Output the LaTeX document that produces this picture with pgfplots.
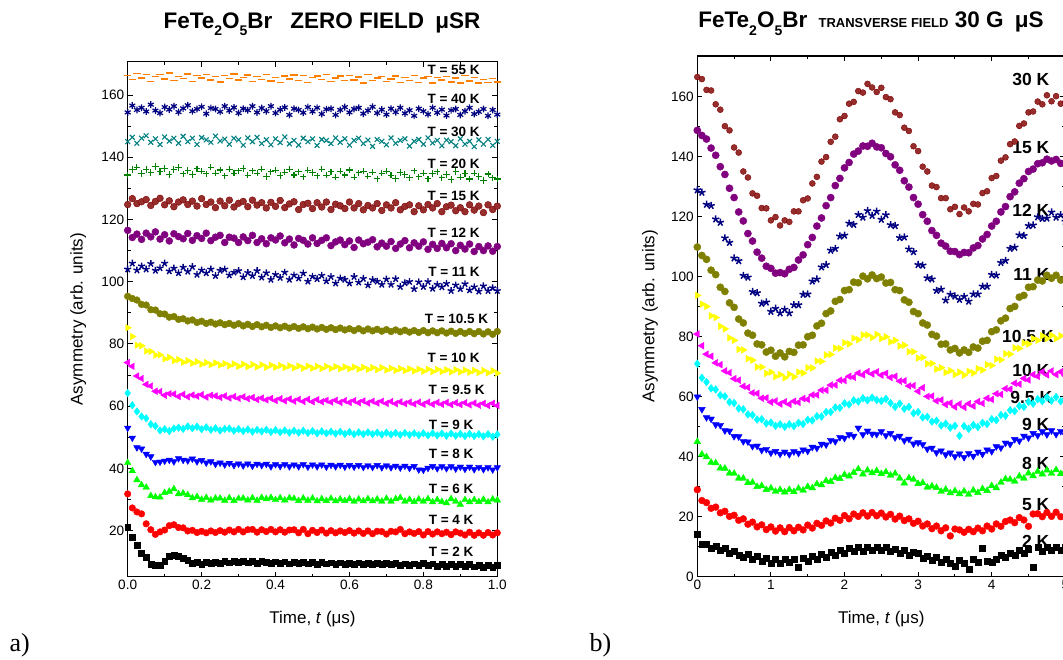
\documentclass[border=0pt]{standalone}
\usepackage{fontspec}
\setmainfont{Liberation Sans}
\newfontfamily\serif{Liberation Serif}
\usepackage{pgfplots}
\usepackage{pgfplotstable}
\pgfplotsset{compat=1.18}

\definecolor{cOrange}{RGB}{255,128,0}
\definecolor{cNavy}{RGB}{0,0,128}
\definecolor{cTeal}{RGB}{0,128,128}
\definecolor{cGreen}{RGB}{0,128,0}
\definecolor{cDarkRed}{RGB}{128,0,0}
\definecolor{cPurple}{RGB}{128,0,128}
\definecolor{cOlive}{RGB}{128,128,0}
\definecolor{cYellow}{RGB}{255,255,0}
\definecolor{cMagenta}{RGB}{255,0,255}
\definecolor{cCyan}{RGB}{0,255,255}
\definecolor{cBlue}{RGB}{0,0,255}
\definecolor{cLime}{RGB}{0,255,0}
\definecolor{cRed}{RGB}{255,0,0}

\newcommand\sub[1]{\raisebox{-0.6ex}{\fontsize{14}{16}\selectfont #1}}

% zero field, t in microseconds
\pgfplotstableread{
t a55 a40 a30 a20 a15 a12 a11 a105 a10 a95 a9 a8 a6 a4 a2
0 166.3 154.4 145.0 134.3 124.8 116.5 104.0 95.3 85.2 74.0 64.2 53.0 41.8 31.8 21.2
0.0125 164.9 156.6 146.4 136.1 126.7 114.2 105.9 94.6 82.4 72.8 60.3 49.8 39.2 27.3 17.8
0.025 167.0 155.2 144.5 136.8 125.1 115.3 103.7 94.1 79.6 69.7 58.3 46.7 36.3 26.0 15.3
0.0375 165.4 155.9 146.1 134.8 125.7 113.6 105.0 92.7 79.4 68.9 56.7 46.3 34.7 25.4 12.8
0.05 166.5 154.7 146.9 136.1 126.4 115.6 104.0 92.5 77.7 67.0 56.1 44.6 33.9 22.2 11.5
0.0625 164.3 156.9 144.8 135.1 124.5 114.4 105.8 91.0 77.6 66.5 54.2 43.8 31.2 20.3 9.3
0.075 165.9 155.0 145.9 137.0 125.8 116.0 103.6 90.9 76.4 64.8 53.6 42.0 30.8 18.8 8.8
0.0875 166.6 154.2 144.1 135.4 126.8 113.7 104.4 89.7 76.5 64.7 52.2 42.1 30.7 19.6 9.0
0.1 165.1 156.1 146.5 136.4 124.7 115.1 105.9 89.6 75.2 63.5 52.6 42.4 32.2 20.2 10.3
0.1125 167.1 155.3 145.2 134.4 126.0 113.1 103.4 88.6 75.7 64.0 52.0 42.7 32.6 21.6 11.8
0.125 164.7 156.4 146.1 136.1 124.1 115.4 104.3 88.8 74.6 63.9 52.8 42.2 33.4 21.9 12.0
0.1375 166.0 154.5 144.5 136.7 125.6 114.5 102.8 87.9 75.0 63.1 53.1 43.2 31.8 21.0 11.9
0.15 165.3 155.7 146.7 134.7 126.3 113.8 104.6 88.1 74.1 63.8 52.7 42.7 32.0 20.9 11.2
0.1625 166.7 156.7 145.0 135.7 124.8 115.5 103.3 87.4 74.6 63.0 53.5 42.5 31.5 19.9 10.5
0.175 164.4 154.8 146.1 134.4 125.9 113.3 104.8 87.7 73.8 63.6 52.9 43.1 30.5 20.1 9.6
0.1875 166.2 155.5 144.1 136.3 124.3 114.8 102.3 86.9 74.3 63.2 53.4 42.2 30.9 19.4 9.8
0.2 165.4 156.2 146.3 135.5 126.7 113.9 103.7 87.3 73.5 63.7 52.6 42.6 30.0 19.8 9.3
0.2125 166.6 154.0 145.6 134.7 124.8 115.6 102.8 86.6 74.0 62.9 53.2 41.8 30.6 19.3 9.9
0.225 164.8 155.8 144.8 136.8 125.6 113.2 104.0 87.0 73.3 63.5 52.4 42.2 29.8 19.9 9.5
0.2375 166.0 155.5 146.8 134.9 123.8 114.3 101.9 86.4 73.9 63.3 52.9 41.4 30.4 19.4 9.9
0.25 164.2 154.6 145.2 135.9 125.9 114.9 103.6 86.8 73.2 62.8 52.2 41.8 30.4 20.0 9.6
0.2625 166.3 156.4 145.8 134.0 124.4 112.6 104.0 86.2 73.7 63.3 52.7 41.2 29.7 19.5 10.1
0.275 165.3 155.0 144.2 136.2 126.2 114.3 102.1 86.6 73.0 62.6 52.8 41.7 30.5 20.2 9.7
0.2875 166.8 156.0 146.1 134.9 124.0 114.0 103.0 86.0 73.6 63.1 52.1 41.0 29.6 19.6 10.2
0.3 164.8 154.2 145.6 135.6 125.2 112.6 103.5 86.5 72.8 62.5 52.6 41.5 30.3 20.4 9.8
0.3125 165.6 155.6 143.9 136.4 125.8 114.4 101.5 85.8 73.5 63.0 52.0 40.9 30.4 19.6 10.3
0.325 166.4 155.1 146.2 134.2 124.1 113.2 102.9 86.3 72.7 62.4 52.5 41.5 29.8 20.3 9.7
0.3375 164.4 156.4 145.0 135.6 126.2 114.9 101.9 85.6 73.4 62.8 51.8 40.8 30.5 20.4 10.2
0.35 166.0 154.4 146.4 134.9 124.6 112.6 103.5 86.2 72.6 62.1 52.4 41.4 29.7 19.5 9.6
0.3625 164.9 155.8 144.4 136.2 125.4 113.8 101.4 85.5 73.3 62.6 51.9 41.0 30.6 20.3 10.1
0.375 166.6 154.8 145.6 133.8 123.7 112.2 102.8 86.0 72.5 62.0 52.4 41.4 30.2 19.7 9.9
0.3875 164.5 156.4 144.0 135.3 125.5 114.1 100.7 85.3 73.2 62.5 51.7 40.6 30.6 20.4 9.6
0.4 165.7 154.2 145.9 135.8 124.2 113.4 102.3 85.8 72.5 61.8 52.3 41.3 29.9 19.6 10.0
0.4125 164.0 155.3 144.7 134.1 126.1 114.7 101.3 85.2 73.1 62.4 51.6 40.7 30.5 20.3 9.5
0.425 166.1 156.0 146.5 135.2 123.8 112.5 103.0 85.7 72.4 61.7 52.2 41.3 29.8 19.5 10.0
0.4375 165.1 153.6 144.3 136.2 125.0 113.7 100.7 85.1 73.0 62.3 51.5 40.6 30.5 20.2 9.4
0.45 166.4 155.6 145.4 134.3 125.7 111.8 102.1 85.6 72.3 61.6 52.1 41.2 30.3 20.3 9.9
0.4625 164.6 155.2 143.9 135.3 123.2 113.9 101.1 85.0 72.9 62.2 51.5 40.6 29.6 19.3 9.5
0.475 166.2 154.3 146.1 133.7 124.8 113.3 102.7 85.5 72.2 61.5 52.1 41.3 30.4 20.4 9.9
0.4875 164.1 156.1 145.0 135.8 125.2 112.1 100.1 84.9 72.9 62.2 51.4 40.5 29.7 19.0 9.4
0.5 165.7 154.7 145.9 135.1 123.5 114.1 101.7 85.4 72.2 61.4 52.0 41.2 30.4 20.1 9.8
0.5125 166.1 155.9 143.8 134.0 125.4 112.3 100.9 84.8 72.8 62.1 51.3 40.6 29.5 19.4 9.3
0.525 164.9 153.9 145.7 136.2 124.0 113.3 102.0 85.3 72.1 61.4 51.9 41.2 30.2 20.2 9.8
0.5375 166.6 155.4 145.4 134.2 125.6 114.1 100.2 84.7 72.8 61.9 51.3 40.5 29.6 19.2 9.4
0.55 164.3 155.6 144.4 135.3 123.2 111.6 101.6 85.2 72.1 61.3 51.8 41.1 30.3 20.0 9.7
0.5625 165.4 153.6 146.2 133.6 124.9 112.8 99.5 84.6 72.7 61.9 51.2 40.6 29.5 19.3 9.3
0.575 166.1 155.2 144.8 135.5 124.4 113.4 101.1 85.1 72.0 61.2 51.8 41.1 30.1 19.9 9.7
0.5875 164.6 156.1 145.9 134.3 123.5 111.9 100.7 84.5 72.6 61.8 51.1 40.5 29.6 19.4 9.2
0.6 166.3 154.4 143.9 135.9 125.6 113.1 99.5 84.9 72.0 61.2 51.7 41.0 30.2 20.0 9.6
0.6125 164.8 155.5 145.4 133.6 123.7 111.0 101.6 84.3 72.6 61.8 51.0 40.5 29.4 19.2 9.2
0.625 165.8 155.9 146.1 135.0 125.1 113.4 99.8 84.9 71.9 61.1 51.6 41.0 30.1 19.9 9.7
0.6375 163.9 154.0 144.4 135.5 123.1 112.2 101.0 84.2 72.5 61.7 51.0 40.4 29.5 19.1 9.3
0.65 166.5 155.0 145.5 133.9 124.5 112.7 98.9 84.8 71.8 61.0 51.6 40.9 30.2 19.9 9.6
0.6625 164.6 156.2 143.5 135.2 123.7 113.5 100.6 84.2 72.4 61.6 51.0 40.4 29.5 19.0 9.2
0.675 165.4 154.2 145.7 133.1 125.1 111.2 100.1 84.7 71.7 61.0 51.5 41.0 30.1 19.8 9.6
0.6875 166.0 155.3 145.1 134.9 122.9 112.4 99.1 84.1 72.4 61.6 50.9 40.3 29.4 19.7 9.1
0.7 164.3 153.7 144.0 135.5 124.7 111.4 100.8 84.6 71.6 60.9 51.5 40.9 30.3 18.9 9.5
0.7125 165.2 155.6 146.2 134.2 123.7 112.9 99.1 84.0 72.2 61.5 50.9 40.3 29.4 19.8 9.1
0.725 166.1 154.5 144.5 133.2 125.4 110.7 100.9 84.5 71.5 60.8 51.4 40.8 30.2 19.6 9.5
0.7375 164.0 155.9 145.4 135.1 123.1 112.1 98.4 83.9 72.1 61.4 50.8 40.2 30.6 20.4 9.0
0.75 165.7 154.1 145.9 134.5 124.2 113.2 99.6 84.4 71.4 60.8 51.4 40.8 29.4 19.0 9.4
0.7625 164.7 155.1 143.6 133.4 124.7 110.9 100.0 83.8 72.0 61.3 50.8 40.1 30.0 19.6 9.0
0.775 166.2 153.3 145.1 135.6 122.5 112.5 97.7 84.3 71.3 60.7 51.3 40.7 29.3 19.1 9.4
0.7875 164.1 155.6 145.7 133.7 124.4 111.4 99.9 83.7 71.9 61.3 50.7 39.6 30.1 19.7 8.9
0.8 165.4 154.8 144.2 134.9 123.1 112.8 98.4 84.3 71.2 60.6 51.3 39.5 29.4 18.6 9.5
0.8125 165.9 153.8 146.2 133.1 124.8 110.4 100.0 83.6 71.9 61.3 50.6 40.1 30.2 19.7 8.8
0.825 163.8 155.9 144.6 134.8 123.7 112.0 97.8 84.2 71.1 60.6 51.3 40.7 29.2 18.9 9.4
0.8375 165.6 154.3 145.4 135.3 125.1 110.7 99.1 83.6 71.8 61.2 50.6 40.0 29.9 19.6 8.7
0.85 164.8 155.3 143.7 133.4 122.5 112.3 98.3 84.2 71.1 60.6 51.2 40.6 29.3 19.0 9.3
0.8625 166.0 153.4 145.5 134.4 124.1 110.9 99.4 83.5 71.7 61.2 50.5 40.0 28.9 19.5 8.7
0.875 164.2 155.1 145.0 132.8 124.6 112.2 97.1 84.1 71.0 60.5 51.2 40.6 30.2 18.7 9.2
0.8875 165.4 155.5 143.7 135.4 122.8 110.0 98.9 83.4 71.7 61.1 50.5 39.9 29.4 19.6 8.6
0.9 163.9 153.6 145.9 133.6 123.8 111.7 97.7 84.0 71.0 60.5 51.1 40.5 28.4 19.2 9.2
0.9125 166.2 154.8 144.2 134.8 122.5 110.5 99.3 83.4 71.6 61.1 50.4 39.8 29.9 18.6 8.5
0.925 164.5 155.9 145.1 133.0 124.7 112.1 97.3 84.0 70.9 60.4 51.1 40.5 29.2 19.5 9.1
0.9375 165.6 153.9 143.4 134.9 123.0 109.7 98.3 83.3 71.5 61.0 50.4 39.7 29.9 18.5 8.4
0.95 163.8 154.6 145.6 133.8 124.3 111.3 96.9 84.0 70.8 60.3 51.0 40.4 29.3 19.3 9.0
0.9625 165.0 155.5 144.2 132.5 122.2 110.0 98.6 83.2 71.5 60.9 50.3 39.7 30.0 18.5 8.3
0.975 164.0 153.3 145.7 134.6 124.7 111.5 97.1 83.9 70.7 60.2 51.0 40.3 29.2 19.4 9.0
0.9875 165.3 155.2 143.8 133.4 123.2 109.8 98.0 83.1 71.4 60.9 50.2 39.6 30.1 18.6 8.3
1 164.2 153.7 145.1 133.0 124.3 111.3 97.1 84.0 70.6 60.2 50.9 40.3 29.8 19.3 8.8
}\zf

% transverse field 30 G
\pgfplotstableread{
t r30 r15 r12 r11 r105 r10 r95 r9 r8 r5 r2
0 166.6 148.8 128.9 109.9 93.8 80.9 71.0 60.0 45.0 29.0 14.2
0.0625 165.9 147.1 128.1 107.1 90.9 77.0 66.3 55.8 40.8 25.4 10.9
0.125 162.3 145.9 124.1 105.8 90.1 74.2 64.9 53.1 39.9 24.7 10.9
0.1875 162.1 142.9 123.7 102.2 87.0 73.5 62.8 52.6 38.1 22.8 9.6
0.25 157.5 140.5 119.2 100.7 86.4 71.3 62.4 50.7 37.9 23.2 10.3
0.3125 155.7 136.7 118.1 96.5 83.5 70.7 60.5 50.5 36.2 21.3 8.8
0.375 150.2 134.1 112.9 95.1 82.6 68.6 60.1 48.7 36.1 21.8 9.4
0.4375 148.8 129.5 111.4 91.3 79.6 68.0 58.2 48.6 34.5 20.1 7.9
0.5 143.1 126.4 106.2 89.8 78.8 66.0 57.9 46.8 34.4 20.5 8.6
0.5625 141.4 121.6 105.3 85.9 75.8 65.5 56.1 46.7 32.8 18.8 7.1
0.625 135.1 118.6 100.4 84.6 75.6 63.5 55.8 45.1 32.8 19.3 6.5
0.6875 133.1 114.4 99.8 81.2 72.7 63.1 54.1 45.0 31.3 17.5 7.6
0.75 127.8 111.9 95.0 80.5 72.2 61.3 53.9 43.5 31.4 18.2 5.8
0.8125 127.0 108.2 94.6 77.6 69.9 61.1 52.4 43.6 30.0 16.6 6.7
0.875 122.9 106.2 91.1 77.3 69.9 59.5 52.5 42.2 30.3 17.3 5.2
0.9375 122.8 103.5 91.5 74.9 67.8 59.6 51.1 42.5 29.0 15.7 6.2
1 118.8 102.8 88.4 75.5 68.2 58.2 51.4 41.3 29.5 16.6 4.6
1.0625 119.9 101.2 89.4 73.5 66.7 58.6 50.3 41.8 28.4 15.2 5.9
1.125 117.1 101.4 87.9 74.6 67.4 57.6 50.8 40.9 29.0 16.3 4.5
1.1875 118.8 101.0 89.1 73.3 66.3 58.3 50.0 41.6 28.2 15.0 5.8
1.25 118.3 102.5 87.9 75.1 67.5 57.5 50.8 40.8 29.0 16.4 4.8
1.3125 121.8 103.1 90.6 74.8 66.6 58.5 50.2 41.7 28.3 15.3 6.0
1.375 121.8 105.6 90.6 77.2 68.2 58.1 51.3 41.2 29.4 16.5 3.2
1.4375 125.5 107.3 94.1 77.3 67.9 59.4 50.9 42.3 28.8 15.6 6.3
1.5 126.1 110.7 94.2 80.0 69.7 59.1 52.3 41.9 30.0 17.2 5.2
1.5625 131.1 113.1 98.5 80.5 69.6 60.6 52.1 43.2 29.6 16.2 6.9
1.625 133.3 116.9 99.2 83.6 71.9 60.6 53.5 42.9 30.9 17.8 5.9
1.6875 138.4 119.6 103.2 84.5 71.8 62.2 53.4 44.2 30.6 17.1 7.4
1.75 139.9 123.7 104.0 87.7 73.9 62.2 54.9 44.0 32.0 18.6 6.6
1.8125 145.0 126.4 108.8 88.6 74.1 63.9 54.9 45.5 31.7 17.9 8.2
1.875 146.7 130.4 109.4 91.8 76.2 63.9 56.4 45.1 33.0 19.5 7.3
1.9375 152.5 132.8 113.5 92.4 76.1 65.5 56.3 46.5 32.7 18.8 8.8
2 153.6 136.3 113.8 95.4 78.0 65.4 57.8 46.2 34.0 20.4 7.9
2.0625 157.7 138.1 117.8 95.7 77.6 66.8 57.4 47.4 33.5 19.3 9.5
2.125 158.3 140.9 117.4 98.2 79.5 66.5 58.8 46.9 34.7 20.9 8.4
2.1875 161.9 141.9 120.7 98.0 79.0 67.9 58.4 49.6 35.9 20.1 9.9
2.25 161.4 143.6 119.8 100.2 80.6 67.3 59.5 47.4 34.2 21.3 8.6
2.3125 164.3 143.5 122.0 99.3 80.6 68.4 58.8 48.6 35.5 20.2 10.0
2.375 163.1 144.5 120.4 100.6 79.7 67.6 59.7 47.6 34.6 21.4 8.8
2.4375 161.6 143.3 121.8 99.4 80.8 68.3 58.9 47.5 35.3 20.3 9.9
2.5 163.0 143.0 119.1 99.9 79.4 67.2 58.6 48.4 34.3 21.2 8.7
2.5625 159.9 141.1 120.6 97.9 80.0 67.8 59.3 47.1 34.9 19.9 9.7
2.625 159.2 140.0 117.3 98.1 78.3 66.4 57.9 47.8 33.8 20.8 8.4
2.6875 154.8 137.3 117.0 95.7 78.8 66.8 56.6 46.4 34.4 19.2 9.3
2.75 153.9 135.5 113.0 95.4 76.9 65.2 57.7 46.9 32.8 20.2 7.8
2.8125 149.7 132.0 113.2 92.3 77.2 65.3 56.0 45.4 31.2 18.7 8.8
2.875 148.6 129.9 109.2 91.5 75.0 63.6 56.6 45.9 32.9 19.3 7.2
2.9375 143.5 126.4 108.3 88.4 75.0 63.7 54.5 44.3 32.4 17.8 8.1
3 141.9 124.2 104.0 87.7 72.9 61.8 54.9 44.7 31.0 18.5 7.7
3.0625 136.7 120.7 103.8 84.6 73.1 63.0 53.1 44.1 31.3 16.9 6.2
3.125 135.1 118.5 99.6 83.9 71.0 60.1 53.3 42.6 29.8 17.6 7.0
3.1875 130.4 115.4 99.2 80.8 71.1 60.2 51.7 42.9 30.2 16.0 5.5
3.25 129.9 113.8 95.4 80.2 69.2 58.6 52.0 41.4 29.7 16.9 6.5
3.3125 126.2 111.2 95.8 77.5 69.7 58.9 50.4 42.0 28.4 15.3 4.9
3.375 126.2 110.2 92.2 77.6 68.1 57.4 51.0 40.7 29.1 16.3 6.0
3.4375 122.5 108.5 94.1 75.6 68.7 57.9 49.7 41.3 27.9 13.6 4.6
3.5 123.3 108.4 93.5 76.1 67.4 56.6 50.3 40.1 28.6 15.9 3.4
3.5625 120.9 107.4 92.4 74.6 68.2 57.6 47.0 41.0 27.6 15.6 5.6
3.625 123.1 108.1 93.4 75.6 67.2 56.5 50.2 39.8 28.5 14.8 4.4
3.6875 121.8 108.0 91.8 74.8 68.5 57.7 49.3 41.1 27.4 15.8 2.4
3.75 124.3 109.6 94.2 76.6 67.9 56.9 50.6 40.2 28.8 15.0 5.9
3.8125 124.1 110.4 94.2 76.2 69.4 58.4 49.9 41.6 28.0 16.2 4.7
3.875 127.9 112.6 96.8 78.5 68.9 57.8 51.3 40.9 29.3 15.3 9.6
3.9375 128.5 114.1 96.8 78.8 70.7 59.5 50.9 42.3 28.7 16.9 5.2
4 132.9 116.9 100.7 81.7 70.4 59.1 52.5 41.8 30.3 15.9 4.8
4.0625 133.6 118.5 100.5 82.3 72.5 61.0 52.2 43.4 29.6 17.6 5.7
4.125 138.7 121.6 104.7 85.3 72.3 60.8 53.9 43.0 31.4 16.8 7.3
4.1875 139.8 123.4 105.4 86.2 74.3 62.7 53.7 44.6 32.6 18.4 6.4
4.25 144.2 126.7 109.4 89.4 74.2 62.5 55.5 44.2 32.4 18.9 8.0
4.3125 145.1 128.3 109.8 90.1 76.3 64.5 55.2 45.8 31.8 18.0 7.1
4.375 150.3 131.2 113.9 93.2 76.1 64.2 56.9 45.3 33.5 19.7 8.7
4.4375 151.1 132.7 113.7 93.8 77.9 66.1 56.6 46.9 32.8 18.9 7.7
4.5 154.8 135.1 117.0 96.5 77.6 65.6 58.3 46.3 34.5 16.8 9.3
4.5625 155.1 135.9 117.2 96.7 79.4 67.4 57.7 47.8 33.6 20.9 3.1
4.625 158.4 137.7 119.9 98.9 78.8 66.8 59.2 47.1 35.1 21.0 9.7
4.6875 157.5 138.0 119.4 98.6 80.3 68.3 58.5 48.4 34.2 20.0 8.6
4.75 160.5 139.2 119.5 100.5 79.4 67.3 59.8 47.4 35.5 21.4 10.0
4.8125 158.5 138.6 121.5 99.5 80.5 68.6 58.7 48.7 34.4 20.1 8.8
4.875 160.2 139.1 119.8 100.5 79.4 67.4 59.9 47.5 35.6 21.5 9.9
4.9375 157.7 137.8 120.6 98.9 80.3 68.3 58.5 48.5 34.3 20.0 8.7
5 158.2 137.6 118.4 99.4 79.0 67.0 59.4 47.2 35.3 19.8 9.8
}\tf

\pgfplotsset{
  musr/.style={
    scale only axis, anchor=south west,
    axis line style={line width=1.1pt},
    every tick/.style={black, line width=0.9pt},
    major tick length=5pt, minor tick length=3pt,
    tick align=inside,
    ticklabel style={font=\fontsize{13.6}{15}\selectfont},
    /pgf/number format/assume math mode=true,
    label style={font=\fontsize{17}{19}\selectfont},
    ylabel={Asymmetry (arb. units)},
    xlabel={Time, \textit{t} (μs)},
  },
}
\tikzset{
  tlab/.style={anchor=east, font=\fontsize{13.5}{15}\selectfont\bfseries},
  blab/.style={anchor=east, font=\fontsize{17.5}{19}\selectfont\bfseries},
}

\begin{document}
\begin{tikzpicture}
\useasboundingbox (0pt,0pt) rectangle (1063pt,659pt);

% a) zero field
\begin{axis}[musr,
  at={(127.7pt,82.3pt)}, width=369.6pt, height=515pt,
  xmin=0, xmax=1, ymin=5.2, ymax=170.7,
  xtick={0,0.2,0.4,0.6,0.8,1}, minor x tick num=1,
  ytick={20,40,60,80,100,120,140,160}, minor y tick num=1,
  xticklabel style={/pgf/number format/.cd, fixed, fixed zerofill, precision=1},
  xlabel style={at={(axis description cs:0.5,-0.0816)}, anchor=center},
  ylabel style={at={(axis description cs:-0.134,0.5)}, anchor=center},
]
\addplot[only marks, color=cOrange, mark=-, mark size=3.6pt, line width=1.4pt] table[x=t,y=a55] {\zf};
\addplot[only marks, color=cNavy, mark=asterisk, mark size=3.4pt, line width=1.2pt] table[x=t,y=a40] {\zf};
\addplot[only marks, color=cTeal, mark=x, mark size=3.4pt, line width=1.1pt] table[x=t,y=a30] {\zf};
\addplot[only marks, color=cGreen, mark=+, mark size=3.2pt, line width=1.1pt] table[x=t,y=a20] {\zf};
\addplot[only marks, mark=*, mark size=3.4pt, mark options={draw=cDarkRed, fill=cDarkRed!82!white}] table[x=t,y=a15] {\zf};
\addplot[only marks, color=cPurple, mark=*, mark size=3.5pt] table[x=t,y=a12] {\zf};
\addplot[only marks, color=cNavy, mark=star, mark size=3.6pt, line width=1.4pt] table[x=t,y=a11] {\zf};
\addplot[only marks, color=cOlive, mark=*, mark size=3.4pt] table[x=t,y=a105] {\zf};
\addplot[only marks, color=cYellow, mark=triangle*, mark size=3.8pt, mark options={rotate=-90}] table[x=t,y=a10] {\zf};
\addplot[only marks, color=cMagenta, mark=triangle*, mark size=3.8pt, mark options={rotate=90}] table[x=t,y=a95] {\zf};
\addplot[only marks, color=cCyan, mark=diamond*, mark size=3.8pt] table[x=t,y=a9] {\zf};
\addplot[only marks, color=cBlue, mark=triangle*, mark size=3.8pt, mark options={rotate=180}] table[x=t,y=a8] {\zf};
\addplot[only marks, color=cLime, mark=triangle*, mark size=3.8pt] table[x=t,y=a6] {\zf};
\addplot[only marks, color=cRed, mark=*, mark size=3.3pt] table[x=t,y=a4] {\zf};
\addplot[only marks, color=black, mark=square*, mark size=2.9pt] table[x=t,y=a2] {\zf};

\node[tlab] at (axis cs:0.962,168.0) {T = 55 K};
\node[tlab] at (axis cs:0.962,158.7) {T = 40 K};
\node[tlab] at (axis cs:0.962,148.2) {T = 30 K};
\node[tlab] at (axis cs:0.962,137.8) {T = 20 K};
\node[tlab] at (axis cs:0.962,127.5) {T = 15 K};
\node[tlab] at (axis cs:0.962,115.8) {T = 12 K};
\node[tlab] at (axis cs:0.962,103.1) {T = 11 K};
\node[tlab] at (axis cs:0.985,88.2) {T = 10.5 K};
\node[tlab] at (axis cs:0.962,75.4) {T = 10 K};
\node[tlab] at (axis cs:0.975,65.2) {T = 9.5 K};
\node[tlab] at (axis cs:0.945,54.0) {T = 9 K};
\node[tlab] at (axis cs:0.945,44.6) {T = 8 K};
\node[tlab] at (axis cs:0.945,33.4) {T = 6 K};
\node[tlab] at (axis cs:0.945,23.4) {T = 4 K};
\node[tlab] at (axis cs:0.945,13.2) {T = 2 K};
\end{axis}

% b) transverse field
\begin{axis}[musr,
  at={(697.3pt,82.3pt)}, width=368pt, height=520.7pt,
  xmin=0, xmax=5, ymin=0, ymax=173.6,
  xtick={0,1,2,3,4,5}, minor x tick num=1,
  ytick={0,20,40,60,80,100,120,140,160}, minor y tick num=1,
  xlabel style={at={(axis description cs:0.5,-0.0807)}, anchor=center},
  ylabel style={at={(axis description cs:-0.1285,0.5)}, anchor=center},
]
\addplot[only marks, mark=*, mark size=3pt, mark options={draw=cDarkRed, fill=cDarkRed!82!white}] table[x=t,y=r30] {\tf};
\addplot[only marks, color=cPurple, mark=*, mark size=3.6pt] table[x=t,y=r15] {\tf};
\addplot[only marks, color=cNavy, mark=star, mark size=3.8pt, line width=1.5pt] table[x=t,y=r12] {\tf};
\addplot[only marks, color=cOlive, mark=*, mark size=3.6pt] table[x=t,y=r11] {\tf};
\addplot[only marks, color=cYellow, mark=triangle*, mark size=3.9pt, mark options={rotate=-90}] table[x=t,y=r105] {\tf};
\addplot[only marks, color=cMagenta, mark=triangle*, mark size=3.9pt, mark options={rotate=90}] table[x=t,y=r10] {\tf};
\addplot[only marks, color=cCyan, mark=diamond*, mark size=3.9pt] table[x=t,y=r95] {\tf};
\addplot[only marks, color=cBlue, mark=triangle*, mark size=3.9pt, mark options={rotate=180}] table[x=t,y=r9] {\tf};
\addplot[only marks, color=cLime, mark=triangle*, mark size=3.9pt] table[x=t,y=r8] {\tf};
\addplot[only marks, color=cRed, mark=*, mark size=3.4pt] table[x=t,y=r5] {\tf};
\addplot[only marks, color=black, mark=square*, mark size=3pt] table[x=t,y=r2] {\tf};

\node[blab] at (axis cs:4.83,165.9) {30 K};
\node[blab] at (axis cs:4.83,143.1) {15 K};
\node[blab] at (axis cs:4.83,122.2) {12 K};
\node[blab] at (axis cs:4.83,100.6) {11 K};
\node[blab] at (axis cs:4.89,80.0) {10.5 K};
\node[blab] at (axis cs:4.83,68.7) {10 K};
\node[blab] at (axis cs:4.87,59.8) {9.5 K};
\node[blab] at (axis cs:4.83,50.6) {9 K};
\node[blab] at (axis cs:4.83,37.8) {8 K};
\node[blab] at (axis cs:4.83,23.9) {5 K};
\node[blab] at (axis cs:4.83,11.7) {2 K};
\end{axis}

% titles and panel letters
\node[anchor=base, font=\fontsize{22.5}{25}\selectfont\bfseries] at (322pt,630.7pt)
  {FeTe\sub{2}O\sub{5}Br\hspace{0.8em}ZERO FIELD\hspace{0.5em}μSR};
\node[anchor=base, font=\fontsize{22.5}{25}\selectfont\bfseries] at (871pt,631pt)
  {FeTe\sub{2}O\sub{5}Br\hspace{0.5em}{\fontsize{13}{15}\selectfont TRANSVERSE FIELD} 30 G\hspace{0.5em}μS};
\node[anchor=base west, font=\serif\fontsize{26}{28}\selectfont] at (6pt,8pt) {a)};
\node[anchor=base west, font=\serif\fontsize{26}{28}\selectfont] at (586pt,8pt) {b)};
\end{tikzpicture}
\end{document}
